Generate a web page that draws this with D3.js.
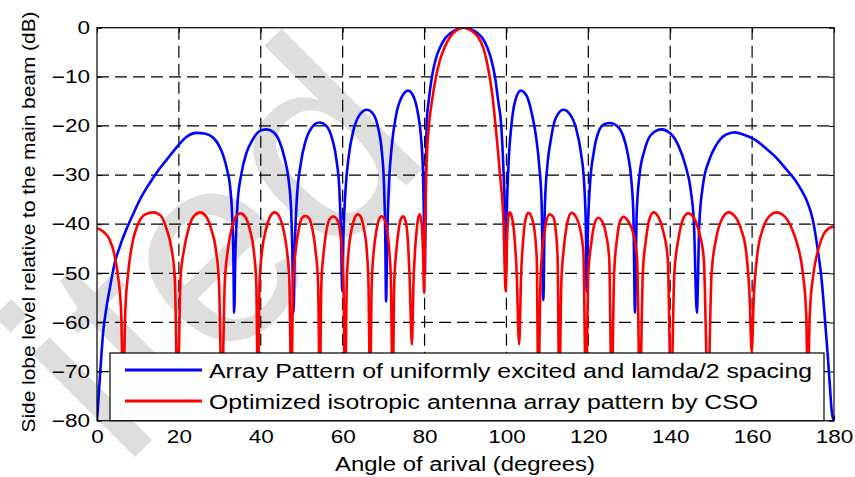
<!DOCTYPE html>
<html>
<head>
<meta charset="utf-8">
<script src="https://cdn.jsdelivr.net/npm/d3@7/dist/d3.min.js"></script>
<style>
  body { margin: 0; background: #fff; }
  text { font-family: "Liberation Sans", Arial, sans-serif; }
</style>
</head>
<body>
<script>
// angle of arrival (deg), level (dB)
var uniformAngle = [0,0.8,1.5,2.3,3.2,4.3,5.6,7.2,8.9,10.8,12.9,15,17,19.5,21.9,24.3,26.5,28.4,29.8,30.9,31.8,32.5,33,33.3,33.5,33.8,34.3,35.2,36.5,38,39.8,41.4,43,44.5,45.8,46.8,47.4,47.7,48,48.3,48.8,49.7,50.8,52.3,54.3,56,57.4,58.5,59.2,59.6,59.9,60.2,60.7,61.5,62.6,64.1,65.9,67.5,68.7,69.6,70.1,70.4,70.6,70.9,71.3,72,73,74.5,76,77.4,78.4,79.1,79.6,79.9,80.1,80.3,80.5,81,81.8,82.7,83.8,85,86.4,88,89.6,91.2,92.8,94.2,95.3,96.3,97.2,98,98.7,99.3,99.7,99.9,100.1,100.5,101.2,102.1,103.5,105,106.2,107.2,108,108.6,109,109.4,110,110.8,112,113.9,115.5,117,118.2,119,119.4,119.6,119.9,120.4,121.3,122.6,124,125.3,127,128.5,129.7,130.5,131,131.4,131.8,132.5,133.7,135.3,137.9,140,142,143.7,145,145.8,146.5,147.1,148,149.5,151.3,153.5,155.8,158,160.7,163,165.6,168,170.5,172,173.5,174.8,176,177,177.8,178.5,179,179.5,180];
var uniformDb = [-80,-70,-62,-57,-52.7,-48,-44.5,-41,-37.8,-34.5,-31.6,-29,-26.9,-24.3,-22.2,-21.4,-21.6,-22.4,-24,-26.2,-29,-32.3,-38,-46,-58,-46,-36,-30,-25.5,-22.8,-21,-20.7,-21.2,-23,-26.5,-31,-37,-45,-58,-45,-35,-28,-23.5,-20.5,-19.3,-20,-22.5,-27,-33,-42,-53.7,-42,-33,-26,-21,-17.8,-16.7,-17.6,-20.5,-25.5,-32,-42,-55.7,-42,-32,-24,-18,-14,-12.8,-14.2,-17.5,-22,-29,-40,-50,-32,-19.6,-15,-10,-6.5,-4,-2.2,-1.1,-0.3,0,-0.3,-1,-2.2,-4,-6.5,-10,-15,-19.6,-29.6,-40,-50,-38,-28,-20,-15,-12.8,-14,-17.5,-22,-28,-36,-55.4,-36,-28,-23,-18.5,-16.7,-17.6,-20.5,-25.5,-32,-41,-53.7,-41,-32,-25.5,-21,-19.6,-19.4,-20,-22,-26,-31,-38,-58,-38,-30,-25,-21.8,-20.7,-21.5,-24,-28,-33,-40,-58,-40,-32,-27,-23.8,-21.8,-21.3,-21.8,-22.8,-24.3,-26.2,-28.5,-31,-33,-35.5,-39,-45,-51.5,-59.5,-67,-73,-78.5,-80];

var csoAngle = [0,1.5,3,4.2,5.2,5.9,6.4,6.9,7.6,8.6,10,11.8,13.8,15.6,17,18.2,19,19.7,20.4,21.3,22.5,23.8,25.2,26.6,27.9,29,29.8,30.5,31.2,32,33,34,35,36.2,37.3,38.3,38.9,39.3,39.7,40.3,41.3,42.3,43.4,44.5,45.5,46.4,47,47.45,47.9,48.5,49.3,50,50.9,51.8,52.6,53.4,54,54.4,54.8,55.4,56.1,56.8,57.7,58.6,59.3,59.8,60.2,60.6,61,61.5,62.2,62.9,63.7,64.5,65.2,65.9,66.3,66.7,67.1,67.6,68.3,68.9,69.5,70.2,70.8,71.4,71.8,72.2,72.6,73.1,73.7,74.2,74.8,75.4,75.9,76.4,76.9,77.3,77.7,78.1,78.5,78.9,79.3,79.6,79.9,80.1,80.4,81.1,81.8,82.8,83.8,84.9,86,87,88.3,89.5,90.7,92.2,93.3,94.3,95.1,95.9,96.6,97.3,98.4,99.3,99.8,100.2,100.5,100.8,101.3,101.9,102.5,103.1,103.6,104.2,104.8,105.4,106.1,106.8,107.4,107.8,108.3,108.8,109.5,110.5,111.4,112,112.5,112.9,113.4,114,114.8,115.9,117,118,118.8,119.4,120,120.7,121.5,122.4,123.3,124.3,125.1,125.7,126.3,127,127.7,128.6,129.8,131,131.9,132.6,133.3,134.1,134.9,135.9,137.1,138.3,139.4,140.2,141,142,143.2,144.4,145.7,147,148.2,149.2,150.1,151.2,152.6,154.2,155.8,157.3,158.6,159.4,159.9,160.4,161.3,162.6,164.3,166,167.8,169.5,171,172.4,173.2,173.6,174.1,175,176.2,177.5,178.8,180];
var csoDb = [-40.8,-41.5,-43,-46,-51,-58,-75,-58,-50,-44,-40,-38,-37.6,-38.3,-41,-45,-51,-75,-51,-45,-40.5,-38.2,-37.6,-38.4,-41,-45,-52,-75,-52,-45,-40.5,-38.4,-37.8,-38.5,-41,-45.5,-52,-75,-52,-45.5,-41,-38.4,-37.6,-38.4,-41,-45.5,-52,-75,-52,-45.5,-41,-38.8,-38.3,-38.8,-41,-45.5,-52,-75,-52,-45.5,-41,-39,-38.4,-39,-41,-45,-52,-75,-52,-45,-41,-38.8,-38,-38.6,-41,-45.5,-52,-75,-52,-45.5,-41,-39,-38.4,-39,-41,-45.5,-52,-75,-52,-45.5,-41,-39,-38.4,-39.5,-43,-52,-64.5,-52,-45,-41,-38.5,-38,-40,-45,-54,-42,-29.6,-19.6,-15,-10,-6.5,-4,-2.2,-1.1,-0.3,0,-0.3,-1.1,-2.2,-4,-6.5,-10,-14,-19.6,-29.6,-40,-53.7,-42,-38.3,-37.6,-38.5,-42,-50,-64.5,-50,-42,-38.5,-37.7,-38.5,-41,-47,-75,-52,-45,-40.5,-38,-38.5,-41,-47,-75,-52,-45,-40,-37.7,-38.5,-41,-46,-75,-50,-44,-40,-38.7,-39.3,-42,-47,-75,-50,-43,-39.5,-38.5,-39.5,-42,-47,-75,-50,-43,-39,-37.6,-38.5,-41.5,-47,-75,-50,-43,-38.8,-37.8,-38.6,-41.5,-47,-75,-50,-43,-39,-37.6,-38.4,-41,-46,-55,-66,-55,-46,-41,-38.3,-37.6,-38.3,-40.5,-44,-50,-58,-72,-58,-50,-45,-42,-40.8,-40.5];

var xTicks = [0,20,40,60,80,100,120,140,160,180];
var yTicks = [0,-10,-20,-30,-40,-50,-60,-70,-80];
var seriesNames = ["Array Pattern of uniformly excited and lamda/2 spacing",
                   "Optimized isotropic antenna array pattern by CSO"];

var W = 855, H = 477;
var pL = 97, pR = 834, pT = 27.7, pB = 420.7;

var x = d3.scaleLinear().domain([0,180]).range([pL,pR]);
var y = d3.scaleLinear().domain([-80,0]).range([pB,pT]);

var svg = d3.select("body").append("svg").attr("width",W).attr("height",H);
svg.append("rect").attr("width",W).attr("height",H).attr("fill","#fff");

// faint watermark
svg.append("text")
  .attr("transform","translate(122,470) rotate(-45)")
  .attr("font-size",275)
  .attr("fill","#dedede")
  .text("ited");

// grid
var grid = svg.append("g");
grid.selectAll("line.gx").data(xTicks.slice(1,-1)).enter().append("line")
  .attr("x1",function(d){ return x(d); }).attr("x2",function(d){ return x(d); })
  .attr("y1",pT).attr("y2",pB);
grid.selectAll("line.gy").data(yTicks.slice(1,-1)).enter().append("line")
  .attr("y1",function(d){ return y(d); }).attr("y2",function(d){ return y(d); })
  .attr("x1",pL).attr("x2",pR);
grid.selectAll("line").attr("stroke","#000").attr("stroke-width",1.2).attr("stroke-dasharray","12,6");

svg.append("clipPath").attr("id","clip").append("rect")
  .attr("x",pL).attr("y",pT).attr("width",pR-pL).attr("height",pB-pT);

var line = d3.line()
  .x(function(d){ return x(d[0]); })
  .y(function(d){ return y(d[1]); })
  .curve(d3.curveMonotoneX);

var blue = uniformAngle.map(function(a,i){ return [a, uniformDb[i]]; });
var red = csoAngle.map(function(a,i){ return [a, csoDb[i]]; });

var plot = svg.append("g").attr("clip-path","url(#clip)");
plot.append("path").datum(blue).attr("d",line).attr("fill","none").attr("stroke","#0000ff").attr("stroke-width",2.6);
plot.append("path").datum(red).attr("d",line).attr("fill","none").attr("stroke","#ff0000").attr("stroke-width",2.6);

// axes, MATLAB style ticks pointing inward
function stretch(sel, k){
  sel.each(function(){
    var w = this.getComputedTextLength();
    d3.select(this).attr("textLength", w*k).attr("lengthAdjust","spacingAndGlyphs");
  });
}

var ax = svg.append("g").attr("transform","translate(0,"+pB+")")
  .call(d3.axisBottom(x).tickValues(xTicks).tickSizeInner(-5).tickSizeOuter(0).tickPadding(9.5));
var ay = svg.append("g").attr("transform","translate("+pL+",0)")
  .call(d3.axisLeft(y).tickValues(yTicks).tickSizeInner(-5).tickSizeOuter(0).tickPadding(7));
svg.append("g").attr("transform","translate(0,"+pT+")")
  .call(d3.axisTop(x).tickValues(xTicks).tickSizeInner(-5).tickSizeOuter(0).tickFormat(""));
svg.append("g").attr("transform","translate("+pR+",0)")
  .call(d3.axisRight(y).tickValues(yTicks).tickSizeInner(-5).tickSizeOuter(0).tickFormat(""));
svg.selectAll(".domain").remove();
svg.selectAll(".tick line").attr("stroke","#000");
[ax, ay].forEach(function(a){
  a.selectAll("text").attr("font-size",18).attr("fill","#000")
    .style("font-family","Liberation Sans, Arial, sans-serif").call(stretch,1.25);
});

svg.append("rect").attr("x",pL).attr("y",pT).attr("width",pR-pL).attr("height",pB-pT)
  .attr("fill","none").attr("stroke","#000").attr("stroke-width",1.2);

// legend
var lg = svg.append("g");
lg.append("rect").attr("x",110).attr("y",353).attr("width",714).attr("height",pB-353)
  .attr("fill","#fff").attr("stroke","#000").attr("stroke-width",1.2);
var legendY = [370, 401];
var legendColor = ["#0000ff","#ff0000"];
var legendLen = [603, 549];
seriesNames.forEach(function(name,i){
  lg.append("line").attr("x1",125).attr("x2",202).attr("y1",legendY[i]).attr("y2",legendY[i])
    .attr("stroke",legendColor[i]).attr("stroke-width",3);
  lg.append("text").attr("x",209).attr("y",legendY[i]+8).attr("font-size",19.5)
    .attr("textLength",legendLen[i]).attr("lengthAdjust","spacingAndGlyphs")
    .text(name);
});

// axis titles
svg.append("text").attr("x",465).attr("y",471).attr("text-anchor","middle").attr("font-size",19.5)
  .attr("textLength",260).attr("lengthAdjust","spacingAndGlyphs")
  .text("Angle of arival (degrees)");
svg.append("text").attr("transform","translate(35,222) rotate(-90)").attr("text-anchor","middle")
  .attr("font-size",18.5).attr("textLength",421).attr("lengthAdjust","spacingAndGlyphs")
  .text("Side lobe level relative to the main beam (dB)");
</script>
</body>
</html>
